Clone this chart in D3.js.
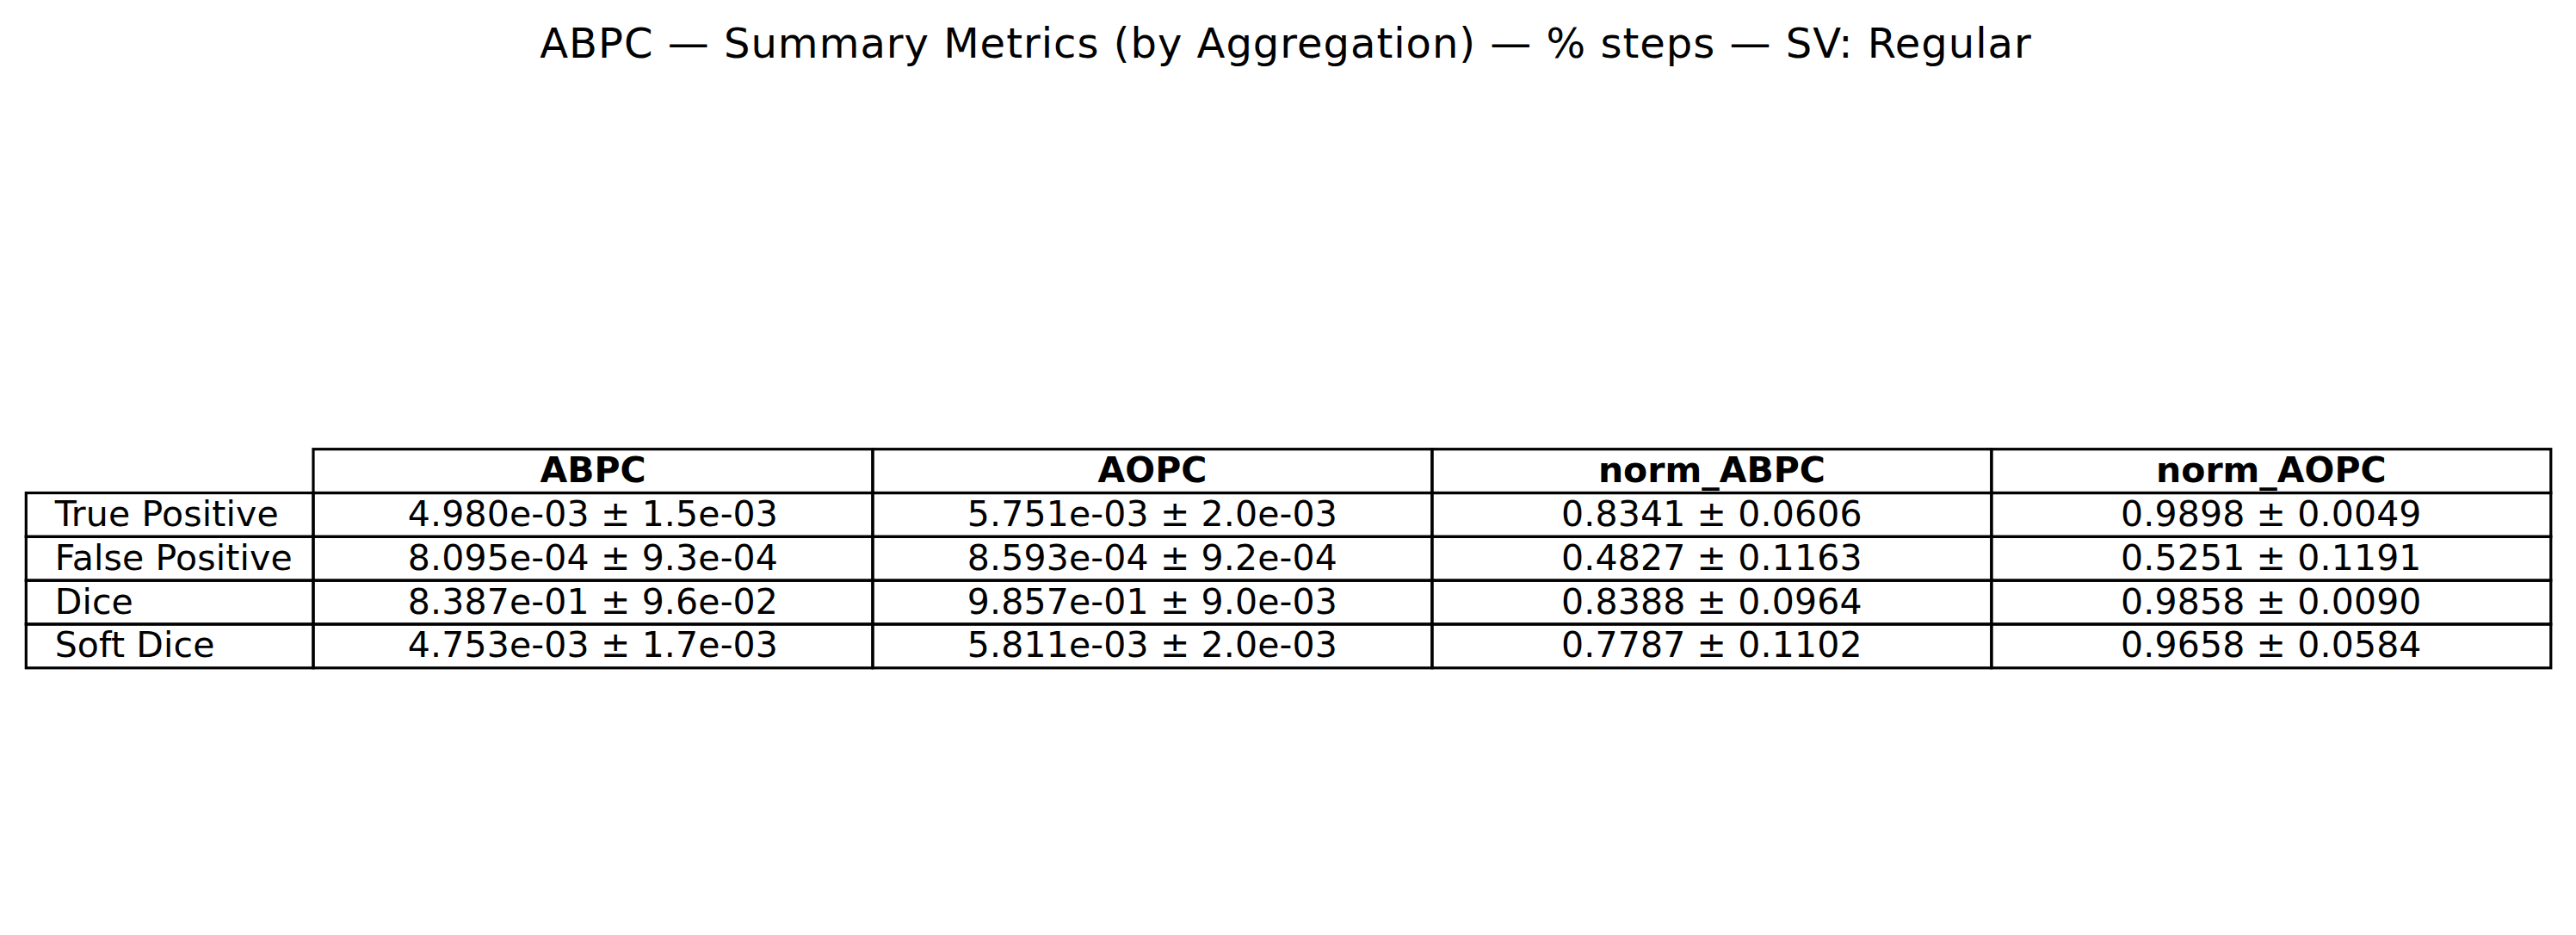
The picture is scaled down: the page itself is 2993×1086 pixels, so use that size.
<!DOCTYPE html>
<html>
<head>
<meta charset="utf-8">
<script src="https://cdn.jsdelivr.net/npm/d3@7"></script>
<style>
  body { margin: 0; background: #fff; }
  text { font-family: "DejaVu Sans", sans-serif; fill: #000; }
</style>
</head>
<body>
<svg id="chart"></svg>
<script>
// table contents
const titleText = "ABPC \u2014 Summary Metrics (by Aggregation) \u2014 % steps \u2014 SV: Regular";
const rowLabels = ["True Positive", "False Positive", "Dice", "Soft Dice"];
const colLabels = ["ABPC", "AOPC", "norm_ABPC", "norm_AOPC"];

const abpcMean = [4.980e-3, 8.095e-4, 8.387e-1, 4.753e-3];
const abpcStd  = [1.5e-3, 9.3e-4, 9.6e-2, 1.7e-3];
const aopcMean = [5.751e-3, 8.593e-4, 9.857e-1, 5.811e-3];
const aopcStd  = [2.0e-3, 9.2e-4, 9.0e-3, 2.0e-3];
const normAbpcMean = [0.8341, 0.4827, 0.8388, 0.7787];
const normAbpcStd  = [0.0606, 0.1163, 0.0964, 0.1102];
const normAopcMean = [0.9898, 0.5251, 0.9858, 0.9658];
const normAopcStd  = [0.0049, 0.1191, 0.0090, 0.0584];

const width = 2993, height = 1086;

// python style scientific notation, e.g. 4.980e-03
function sci(v, digits) {
  let s = v.toExponential(digits);
  return s.replace(/e([+-])(\d)$/, "e$10$2");
}

// each column: how to format its cells
const columns = [
  { mean: abpcMean, std: abpcStd, fmt: (m, s) => sci(m, 3) + " \u00b1 " + sci(s, 1) },
  { mean: aopcMean, std: aopcStd, fmt: (m, s) => sci(m, 3) + " \u00b1 " + sci(s, 1) },
  { mean: normAbpcMean, std: normAbpcStd, fmt: (m, s) => m.toFixed(4) + " \u00b1 " + s.toFixed(4) },
  { mean: normAopcMean, std: normAopcStd, fmt: (m, s) => m.toFixed(4) + " \u00b1 " + s.toFixed(4) }
];

const svg = d3.select("#chart").attr("width", width).attr("height", height);

svg.append("text")
  .attr("x", 1494)
  .attr("y", 67.3)
  .attr("text-anchor", "middle")
  .style("font-size", "48px")
  .style("letter-spacing", "1px")
  .text(titleText);

// layout of the table
const tableLeft = 30.3, labelWidth = 333.7, tableRight = 2963.8;
const tableTop = 521.7, tableBottom = 775.8;
const fontSize = 41;
const baseShift = 13;

const x = d3.scaleBand()
  .domain(colLabels)
  .range([tableLeft + labelWidth, tableRight]);

const y = d3.scaleBand()
  .domain(["header"].concat(rowLabels))
  .range([tableTop, tableBottom]);

const g = svg.append("g");

// header cells
const head = g.selectAll(".head")
  .data(colLabels)
  .join("g")
  .attr("class", "head");

head.append("rect")
  .attr("x", d => x(d))
  .attr("y", y("header"))
  .attr("width", x.bandwidth())
  .attr("height", y.bandwidth())
  .attr("fill", "none")
  .attr("stroke", "#000")
  .attr("stroke-width", 3.2);

head.append("text")
  .attr("x", d => x(d) + x.bandwidth() / 2)
  .attr("y", y("header") + y.bandwidth() / 2 + baseShift)
  .attr("text-anchor", "middle")
  .style("font-size", fontSize + "px")
  .style("font-weight", "bold")
  .text(d => d);

// body rows
rowLabels.forEach((label, i) => {
  let row = g.append("g");

  row.append("rect")
    .attr("x", tableLeft)
    .attr("y", y(label))
    .attr("width", labelWidth)
    .attr("height", y.bandwidth())
    .attr("fill", "none")
    .attr("stroke", "#000")
    .attr("stroke-width", 3.2);

  row.append("text")
    .attr("x", tableLeft + labelWidth * 0.1)
    .attr("y", y(label) + y.bandwidth() / 2 + baseShift)
    .style("font-size", fontSize + "px")
    .style("letter-spacing", "0.15px")
    .text(label);

  columns.forEach((col, j) => {
    let name = colLabels[j];
    row.append("rect")
      .attr("x", x(name))
      .attr("y", y(label))
      .attr("width", x.bandwidth())
      .attr("height", y.bandwidth())
      .attr("fill", "none")
      .attr("stroke", "#000")
      .attr("stroke-width", 3.2);

    row.append("text")
      .attr("x", x(name) + x.bandwidth() / 2)
      .attr("y", y(label) + y.bandwidth() / 2 + baseShift)
      .attr("text-anchor", "middle")
      .style("font-size", fontSize + "px")
      .style("letter-spacing", "0.15px")
      .text(col.fmt(col.mean[i], col.std[i]));
  });
});
</script>
</body>
</html>
